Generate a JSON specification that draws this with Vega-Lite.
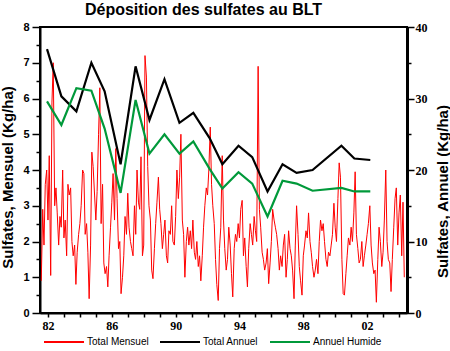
{
  "$schema": "https://vega.github.io/schema/vega-lite/v6.json",
  "width": 367,
  "height": 286,
  "autosize": {"type": "none"},
  "padding": {"left": 40, "top": 27, "right": 43, "bottom": 38},
  "background": "white",
  "title": {"text": "Déposition des sulfates au BLT", "font": "Liberation Sans", "fontSize": 16, "fontWeight": "bold", "anchor": "middle", "dx": -20, "offset": 3, "color": "black"},
  "config": {
    "view": {"stroke": "black", "strokeWidth": 2},
    "axis": {"grid": false, "domainColor": "black", "tickColor": "black", "labelColor": "black", "titleColor": "black"}
  },
  "datasets": {
    "monthly": [
      {"t":1981.58,"v":0.9},{"t":1981.67,"v":2.9},{"t":1981.75,"v":1.9},{"t":1981.83,"v":3.6},{"t":1981.92,"v":4.0},
      {"t":1982.00,"v":2.6},{"t":1982.08,"v":4.4},{"t":1982.17,"v":1.05},{"t":1982.25,"v":5.9},{"t":1982.33,"v":7.0},{"t":1982.42,"v":3.0},{"t":1982.50,"v":3.5},{"t":1982.58,"v":2.8},{"t":1982.67,"v":1.9},{"t":1982.75,"v":2.7},{"t":1982.83,"v":2.4},{"t":1982.92,"v":4.0},
      {"t":1983.00,"v":2.1},{"t":1983.08,"v":2.6},{"t":1983.17,"v":1.6},{"t":1983.25,"v":3.6},{"t":1983.33,"v":3.3},{"t":1983.42,"v":3.5},{"t":1983.50,"v":2.0},{"t":1983.58,"v":1.6},{"t":1983.67,"v":1.9},{"t":1983.75,"v":0.8},{"t":1983.83,"v":1.7},{"t":1983.92,"v":2.2},
      {"t":1984.00,"v":2.5},{"t":1984.08,"v":3.0},{"t":1984.17,"v":4.0},{"t":1984.25,"v":3.9},{"t":1984.33,"v":2.2},{"t":1984.42,"v":2.5},{"t":1984.50,"v":1.7},{"t":1984.58,"v":0.4},{"t":1984.67,"v":1.9},{"t":1984.75,"v":4.5},{"t":1984.83,"v":4.1},{"t":1984.92,"v":3.3},
      {"t":1985.00,"v":2.6},{"t":1985.08,"v":3.4},{"t":1985.17,"v":5.0},{"t":1985.25,"v":6.3},{"t":1985.33,"v":2.5},{"t":1985.42,"v":3.6},{"t":1985.50,"v":1.4},{"t":1985.58,"v":1.1},{"t":1985.67,"v":1.3},{"t":1985.75,"v":0.73},{"t":1985.83,"v":1.6},{"t":1985.92,"v":2.4},
      {"t":1986.00,"v":3.1},{"t":1986.08,"v":3.9},{"t":1986.17,"v":2.6},{"t":1986.25,"v":4.6},{"t":1986.33,"v":3.2},{"t":1986.42,"v":1.8},{"t":1986.50,"v":2.0},{"t":1986.58,"v":0.54},{"t":1986.67,"v":1.0},{"t":1986.75,"v":1.6},{"t":1986.83,"v":2.7},{"t":1986.92,"v":2.2},
      {"t":1987.00,"v":3.35},{"t":1987.08,"v":2.4},{"t":1987.17,"v":2.0},{"t":1987.25,"v":1.8},{"t":1987.33,"v":1.6},{"t":1987.42,"v":3.0},{"t":1987.50,"v":2.2},{"t":1987.58,"v":4.0},{"t":1987.67,"v":3.1},{"t":1987.75,"v":2.9},{"t":1987.83,"v":4.37},{"t":1987.92,"v":1.6},
      {"t":1988.00,"v":1.9},{"t":1988.08,"v":7.2},{"t":1988.17,"v":6.6},{"t":1988.25,"v":4.1},{"t":1988.33,"v":3.0},{"t":1988.42,"v":2.6},{"t":1988.50,"v":1.2},{"t":1988.58,"v":0.96},{"t":1988.67,"v":1.8},{"t":1988.75,"v":2.5},{"t":1988.83,"v":3.1},{"t":1988.92,"v":3.8},
      {"t":1989.00,"v":2.9},{"t":1989.08,"v":2.5},{"t":1989.17,"v":1.8},{"t":1989.25,"v":2.2},{"t":1989.33,"v":2.6},{"t":1989.42,"v":1.6},{"t":1989.50,"v":1.4},{"t":1989.58,"v":2.3},{"t":1989.67,"v":2.2},{"t":1989.75,"v":3.0},{"t":1989.83,"v":2.0},{"t":1989.92,"v":1.9},
      {"t":1990.00,"v":2.7},{"t":1990.08,"v":4.0},{"t":1990.17,"v":3.2},{"t":1990.25,"v":3.8},{"t":1990.33,"v":5.0},{"t":1990.42,"v":2.6},{"t":1990.50,"v":2.2},{"t":1990.58,"v":1.0},{"t":1990.67,"v":2.0},{"t":1990.75,"v":2.4},{"t":1990.83,"v":1.9},{"t":1990.92,"v":2.3},
      {"t":1991.00,"v":1.8},{"t":1991.08,"v":2.6},{"t":1991.17,"v":1.7},{"t":1991.25,"v":1.5},{"t":1991.33,"v":2.0},{"t":1991.42,"v":1.3},{"t":1991.50,"v":1.6},{"t":1991.58,"v":0.9},{"t":1991.67,"v":1.6},{"t":1991.75,"v":2.4},{"t":1991.83,"v":3.0},{"t":1991.92,"v":3.5},
      {"t":1992.00,"v":3.3},{"t":1992.08,"v":4.0},{"t":1992.17,"v":5.2},{"t":1992.25,"v":3.6},{"t":1992.33,"v":3.0},{"t":1992.42,"v":2.5},{"t":1992.50,"v":1.5},{"t":1992.58,"v":0.8},{"t":1992.67,"v":0.35},{"t":1992.75,"v":1.8},{"t":1992.83,"v":2.4},{"t":1992.92,"v":4.4},
      {"t":1993.00,"v":2.6},{"t":1993.08,"v":1.8},{"t":1993.17,"v":1.2},{"t":1993.25,"v":1.5},{"t":1993.33,"v":2.4},{"t":1993.42,"v":1.9},{"t":1993.50,"v":1.1},{"t":1993.58,"v":0.45},{"t":1993.67,"v":1.8},{"t":1993.75,"v":2.2},{"t":1993.83,"v":2.0},{"t":1993.92,"v":2.5},
      {"t":1994.00,"v":2.1},{"t":1994.08,"v":2.9},{"t":1994.17,"v":3.15},{"t":1994.25,"v":1.6},{"t":1994.33,"v":2.1},{"t":1994.42,"v":1.3},{"t":1994.50,"v":0.73},{"t":1994.58,"v":1.8},{"t":1994.67,"v":2.5},{"t":1994.75,"v":2.2},{"t":1994.83,"v":1.9},{"t":1994.92,"v":2.7},
      {"t":1995.00,"v":2.3},{"t":1995.08,"v":2.0},{"t":1995.17,"v":6.9},{"t":1995.25,"v":2.9},{"t":1995.33,"v":2.4},{"t":1995.42,"v":1.7},{"t":1995.50,"v":1.5},{"t":1995.58,"v":1.2},{"t":1995.67,"v":1.4},{"t":1995.75,"v":1.8},{"t":1995.83,"v":0.82},{"t":1995.92,"v":1.4},
      {"t":1996.00,"v":2.0},{"t":1996.08,"v":2.9},{"t":1996.17,"v":2.6},{"t":1996.25,"v":2.4},{"t":1996.33,"v":2.2},{"t":1996.42,"v":1.8},{"t":1996.50,"v":1.2},{"t":1996.58,"v":1.6},{"t":1996.67,"v":1.3},{"t":1996.75,"v":1.9},{"t":1996.83,"v":2.2},{"t":1996.92,"v":1.0},
      {"t":1997.00,"v":1.5},{"t":1997.08,"v":2.3},{"t":1997.17,"v":1.8},{"t":1997.25,"v":1.6},{"t":1997.33,"v":1.2},{"t":1997.42,"v":0.4},{"t":1997.50,"v":1.9},{"t":1997.58,"v":3.0},{"t":1997.67,"v":2.2},{"t":1997.75,"v":1.3},{"t":1997.83,"v":0.9},{"t":1997.92,"v":0.5},
      {"t":1998.00,"v":1.6},{"t":1998.08,"v":1.9},{"t":1998.17,"v":2.3},{"t":1998.25,"v":2.1},{"t":1998.33,"v":2.8},{"t":1998.42,"v":2.0},{"t":1998.50,"v":1.7},{"t":1998.58,"v":1.3},{"t":1998.67,"v":1.0},{"t":1998.75,"v":1.2},{"t":1998.83,"v":1.5},{"t":1998.92,"v":1.1},
      {"t":1999.00,"v":2.0},{"t":1999.08,"v":2.6},{"t":1999.17,"v":2.3},{"t":1999.25,"v":2.5},{"t":1999.33,"v":2.0},{"t":1999.42,"v":1.5},{"t":1999.50,"v":1.3},{"t":1999.58,"v":1.7},{"t":1999.67,"v":1.6},{"t":1999.75,"v":1.9},{"t":1999.83,"v":2.2},{"t":1999.92,"v":3.07},
      {"t":2000.00,"v":2.4},{"t":2000.08,"v":2.0},{"t":2000.17,"v":3.2},{"t":2000.25,"v":4.2},{"t":2000.33,"v":3.8},{"t":2000.42,"v":1.5},{"t":2000.50,"v":0.54},{"t":2000.58,"v":0.5},{"t":2000.67,"v":1.1},{"t":2000.75,"v":1.6},{"t":2000.83,"v":2.1},{"t":2000.92,"v":1.9},
      {"t":2001.00,"v":2.4},{"t":2001.08,"v":2.0},{"t":2001.17,"v":2.8},{"t":2001.25,"v":3.95},{"t":2001.33,"v":2.2},{"t":2001.42,"v":1.8},{"t":2001.50,"v":1.4},{"t":2001.58,"v":1.5},{"t":2001.67,"v":2.0},{"t":2001.75,"v":1.3},{"t":2001.83,"v":1.6},{"t":2001.92,"v":1.9},
      {"t":2002.00,"v":2.2},{"t":2002.08,"v":2.5},{"t":2002.17,"v":3.0},{"t":2002.25,"v":1.9},{"t":2002.33,"v":1.4},{"t":2002.42,"v":1.1},{"t":2002.50,"v":1.2},{"t":2002.58,"v":0.3},{"t":2002.67,"v":1.5},{"t":2002.75,"v":2.4},{"t":2002.83,"v":2.0},{"t":2002.92,"v":1.3},
      {"t":2003.00,"v":1.7},{"t":2003.08,"v":2.6},{"t":2003.17,"v":4.0},{"t":2003.25,"v":2.0},{"t":2003.33,"v":1.5},{"t":2003.42,"v":1.4},{"t":2003.50,"v":0.6},{"t":2003.58,"v":1.5},{"t":2003.67,"v":2.4},{"t":2003.75,"v":3.2},{"t":2003.83,"v":3.5},{"t":2003.92,"v":1.9},
      {"t":2004.00,"v":2.8},{"t":2004.08,"v":3.3},{"t":2004.17,"v":1.6},{"t":2004.25,"v":3.1},{"t":2004.33,"v":1.0}
    ],
    "annual": [
      {"s":"Total Annuel","t":1981.94,"v":36.9},{"s":"Total Annuel","t":1982.84,"v":30.3},{"s":"Total Annuel","t":1983.78,"v":28.2},{"s":"Total Annuel","t":1984.72,"v":35.0},{"s":"Total Annuel","t":1985.55,"v":31.0},{"s":"Total Annuel","t":1986.55,"v":20.8},{"s":"Total Annuel","t":1987.49,"v":34.5},{"s":"Total Annuel","t":1988.36,"v":27.0},{"s":"Total Annuel","t":1989.30,"v":32.7},{"s":"Total Annuel","t":1990.24,"v":26.6},{"s":"Total Annuel","t":1991.11,"v":28.0},{"s":"Total Annuel","t":1992.12,"v":24.5},{"s":"Total Annuel","t":1992.93,"v":20.8},{"s":"Total Annuel","t":1993.94,"v":23.4},{"s":"Total Annuel","t":1994.80,"v":21.8},{"s":"Total Annuel","t":1995.76,"v":17.0},{"s":"Total Annuel","t":1996.70,"v":20.8},{"s":"Total Annuel","t":1997.58,"v":19.6},{"s":"Total Annuel","t":1998.58,"v":20.0},{"s":"Total Annuel","t":2000.39,"v":23.4},{"s":"Total Annuel","t":2001.20,"v":21.6},{"s":"Total Annuel","t":2002.20,"v":21.4},
      {"s":"Annuel Humide","t":1981.94,"v":29.6},{"s":"Annuel Humide","t":1982.84,"v":26.3},{"s":"Annuel Humide","t":1983.78,"v":31.45},{"s":"Annuel Humide","t":1984.72,"v":31.1},{"s":"Annuel Humide","t":1985.55,"v":25.8},{"s":"Annuel Humide","t":1986.55,"v":16.8},{"s":"Annuel Humide","t":1987.49,"v":29.8},{"s":"Annuel Humide","t":1988.36,"v":22.3},{"s":"Annuel Humide","t":1989.30,"v":25.0},{"s":"Annuel Humide","t":1990.24,"v":22.3},{"s":"Annuel Humide","t":1991.11,"v":24.0},{"s":"Annuel Humide","t":1992.12,"v":20.2},{"s":"Annuel Humide","t":1992.93,"v":17.4},{"s":"Annuel Humide","t":1993.94,"v":19.7},{"s":"Annuel Humide","t":1994.80,"v":18.1},{"s":"Annuel Humide","t":1995.76,"v":13.5},{"s":"Annuel Humide","t":1996.70,"v":18.5},{"s":"Annuel Humide","t":1997.58,"v":18.1},{"s":"Annuel Humide","t":1998.58,"v":17.1},{"s":"Annuel Humide","t":2000.39,"v":17.5},{"s":"Annuel Humide","t":2001.20,"v":17.0},{"s":"Annuel Humide","t":2002.20,"v":17.0}
    ]
  },
  "encoding": {
    "x": {"field": "t", "type": "quantitative", "scale": {"domain": [1981.5, 2004.5], "nice": false, "zero": false},
          "axis": {"title": null, "values": [1982,1983,1984,1985,1986,1987,1988,1989,1990,1991,1992,1993,1994,1995,1996,1997,1998,1999,2000,2001,2002,2003,2004],
                   "labelExpr": "datum.value % 4 === 2 ? format(datum.value % 100, '02d') : ''",
                   "domainWidth": 2, "tickSize": 4, "tickWidth": 1.5, "labelPadding": 3, "labelFont": "Liberation Serif", "labelFontWeight": "bold", "labelFontSize": 12}}
  },
  "layer": [
    {
      "data": {"name": "monthly"},
      "mark": {"type": "line", "strokeWidth": 1, "strokeJoin": "miter"},
      "encoding": {
        "y": {"field": "v", "type": "quantitative", "scale": {"domain": [0, 8], "nice": false},
              "axis": {"orient": "left", "title": "Sulfates, Mensuel (Kg/ha)", "values": [0,0.5,1,1.5,2,2.5,3,3.5,4,4.5,5,5.5,6,6.5,7,7.5,8],
                       "labelExpr": "datum.value % 1 === 0 ? format(datum.value, 'd') : ''",
                       "tickSize": {"condition": {"test": "datum.value % 1 === 0", "value": 8}, "value": 4},
                       "tickWidth": 1.5, "domainWidth": 2, "labelPadding": 3, "labelFont": "Liberation Sans", "labelFontWeight": "bold", "labelFontSize": 11,
                       "titleFont": "Liberation Sans", "titleFontSize": 15, "titleFontWeight": "bold", "titleAngle": 270, "titleAlign": "center", "titleBaseline": "bottom", "titleX": -25, "titleY": 150}},
        "color": {"datum": "Total Mensuel", "type": "nominal", "title": null,
                  "scale": {"domain": ["Total Mensuel", "Total Annuel", "Annuel Humide"], "range": ["#ff0000", "#000000", "#00993a"]},
                  "legend": {"title": null, "orient": "none", "legendX": 18, "legendY": 309, "direction": "horizontal", "symbolType": "M-4,0H4", "symbolSize": 100, "symbolStrokeWidth": 2, "labelFont": "Liberation Sans", "labelFontSize": 10, "labelColor": "black", "labelOffset": 17, "columnPadding": 7, "padding": 0}}
      }
    },
    {
      "data": {"name": "annual"},
      "mark": {"type": "line", "strokeWidth": 2.2},
      "encoding": {
        "y": {"field": "v", "type": "quantitative", "scale": {"domain": [0, 40], "nice": false},
              "axis": {"orient": "right", "title": "Sulfates, Annuel (Kg/ha)", "values": [0,5,10,15,20,25,30,35,40],
                       "labelExpr": "datum.value % 10 === 0 ? format(datum.value, 'd') : ''",
                       "tickSize": {"condition": {"test": "datum.value % 10 === 0", "value": 7}, "value": 4},
                       "tickWidth": 1.5, "domainWidth": 3, "labelPadding": 1, "labelFont": "Liberation Serif", "labelFontWeight": "bold", "labelFontSize": 12,
                       "titleFont": "Liberation Sans", "titleFontSize": 15, "titleFontWeight": "bold", "titleAngle": 270, "titleAlign": "center", "titleBaseline": "bottom", "titleX": 43, "titleY": 164}},
        "color": {"field": "s", "type": "nominal", "title": null,
                  "scale": {"domain": ["Total Mensuel", "Total Annuel", "Annuel Humide"], "range": ["#ff0000", "#000000", "#00993a"]},
                  "legend": {"title": null, "orient": "none", "legendX": 18, "legendY": 309, "direction": "horizontal", "symbolType": "M-4,0H4", "symbolSize": 100, "symbolStrokeWidth": 2, "labelFont": "Liberation Sans", "labelFontSize": 10, "labelColor": "black", "labelOffset": 17, "columnPadding": 7, "padding": 0}},
        "order": {"field": "t", "type": "quantitative"}
      }
    }
  ],
  "resolve": {"scale": {"y": "independent"}}
}
